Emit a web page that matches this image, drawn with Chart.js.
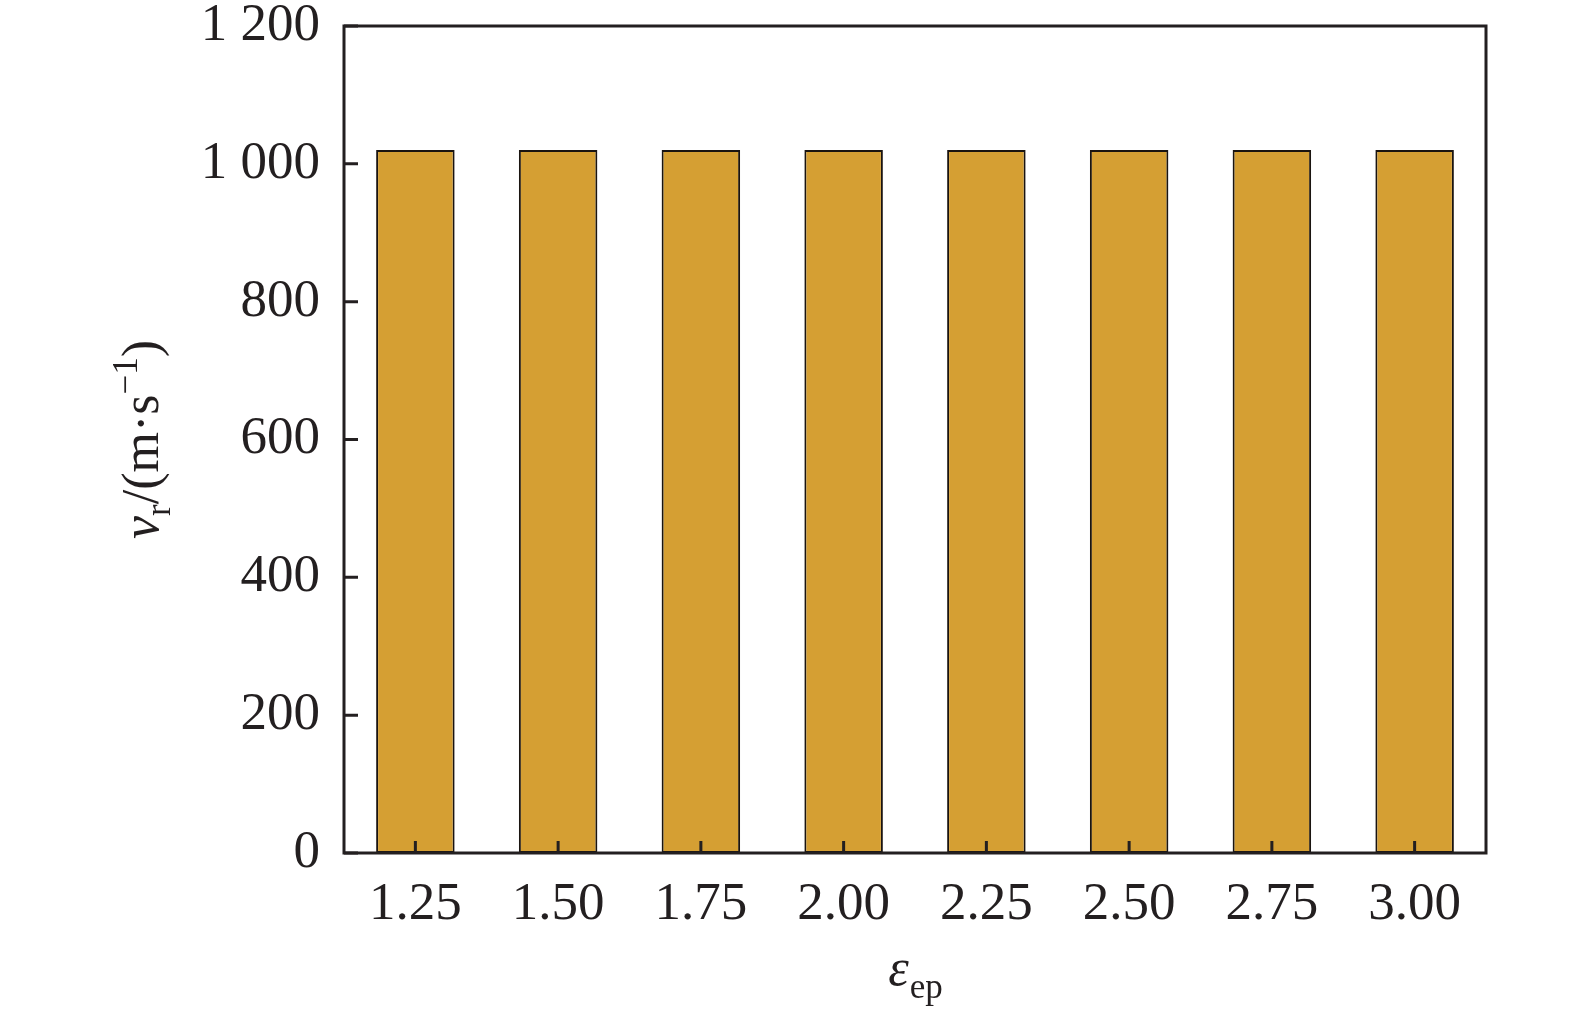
<!DOCTYPE html>
<html lang="en">
<head>
    <meta charset="UTF-8">
    <title>v_r vs eps_ep</title>
    <script src="https://cdn.jsdelivr.net/npm/chart.js"></script>
    <style>
        body { margin: 0; background: #fff; }
        #grafico { display: block; }
    </style>
</head>
<body>
    <canvas id="grafico" width="1575" height="1018"></canvas>

    <script>
        // dati
        const categorie = ['1.25', '1.50', '1.75', '2.00', '2.25', '2.50', '2.75', '3.00'];
        const velocita = [1020, 1020, 1020, 1020, 1020, 1020, 1020, 1020];
        const tickY = [0, 200, 400, 600, 800, 1000, 1200];

        const colore = '#231f20';
        const font = '"Liberation Serif", "Times New Roman", serif';

        // cornice, tacche interne e titoli degli assi
        const cornice = {
            id: 'cornice',
            afterDatasetsDraw(chart) {
                const ctx = chart.ctx;
                const a = chart.chartArea;
                const x = chart.scales.x, y = chart.scales.y;
                ctx.save();
                ctx.strokeStyle = colore;
                ctx.lineWidth = 3;
                ctx.beginPath();
                // tacche asse y verso l'interno
                tickY.forEach(v => {
                    const py = y.getPixelForValue(v);
                    ctx.moveTo(a.left, py);
                    ctx.lineTo(a.left + 14, py);
                });
                // tacche asse x verso l'interno
                categorie.forEach((c, i) => {
                    const px = x.getPixelForValue(i);
                    ctx.moveTo(px, a.bottom);
                    ctx.lineTo(px, a.bottom - 12);
                });
                ctx.stroke();
                ctx.strokeRect(a.left, a.top, a.right - a.left, a.bottom - a.top);

                ctx.fillStyle = colore;
                ctx.textBaseline = 'alphabetic';
                // titolo asse x: ε_ep
                const cx = (a.left + a.right) / 2;
                ctx.font = 'italic 52px ' + font;
                const wE = ctx.measureText('ε').width;
                ctx.font = '35px ' + font;
                const wS = ctx.measureText('ep').width;
                let sx = cx - (wE + wS) / 2;
                ctx.font = 'italic 52px ' + font;
                ctx.fillText('ε', sx, 985);
                ctx.font = '35px ' + font;
                ctx.fillText('ep', sx + wE + 1, 998);

                // titolo asse y: v_r/(m·s^-1)
                ctx.translate(158, (a.top + a.bottom) / 2);
                ctx.rotate(-Math.PI / 2);
                const parti = [
                    { t: 'v', f: 'italic 52px ', dy: 0 },
                    { t: 'r', f: '35px ', dy: 12 },
                    { t: '/(m·s', f: '52px ', dy: 0 },
                    { t: '−1', f: '35px ', dy: -21 },
                    { t: ')', f: '52px ', dy: 0 }
                ];
                let tot = 0;
                parti.forEach(p => { ctx.font = p.f + font; p.w = ctx.measureText(p.t).width; tot += p.w; });
                let px = -tot / 2;
                parti.forEach(p => {
                    ctx.font = p.f + font;
                    ctx.fillText(p.t, px, p.dy);
                    px += p.w;
                });
                ctx.restore();
            }
        };

        const canvas = document.getElementById('grafico').getContext('2d');

        const grafico = new Chart(canvas, {
            type: 'bar',
            data: {
                labels: categorie,
                datasets: [{
                    data: velocita,
                    backgroundColor: '#d59f33',
                    borderColor: '#1a1410',
                    borderWidth: 2,
                    borderSkipped: false,
                    categoryPercentage: 0.55,
                    barPercentage: 1
                }]
            },
            options: {
                responsive: false,
                animation: false,
                layout: { padding: { top: 26, right: 89, left: 0, bottom: 0 } },
                plugins: { legend: { display: false }, tooltip: { enabled: false } },
                scales: {
                    x: {
                        grid: { display: false },
                        border: { display: false },
                        ticks: { color: colore, font: { family: font, size: 53 }, padding: 12 },
                        afterFit(s) { s.height = 165; s.paddingLeft = 0; s.paddingRight = 0; }
                    },
                    y: {
                        min: 0,
                        max: 1200,
                        afterBuildTicks(s) { s.ticks = tickY.map(v => ({ value: v })); },
                        grid: { display: false },
                        border: { display: false },
                        ticks: {
                            color: colore,
                            font: { family: font, size: 53 },
                            padding: 16,
                            callback: v => v >= 1000 ? Math.floor(v / 1000) + ' ' + String(v % 1000).padStart(3, '0') : String(v)
                        },
                        afterFit(s) { s.width = 344; s.paddingTop = 0; s.paddingBottom = 0; }
                    }
                }
            },
            plugins: [cornice]
        });
    </script>
</body>
</html>
